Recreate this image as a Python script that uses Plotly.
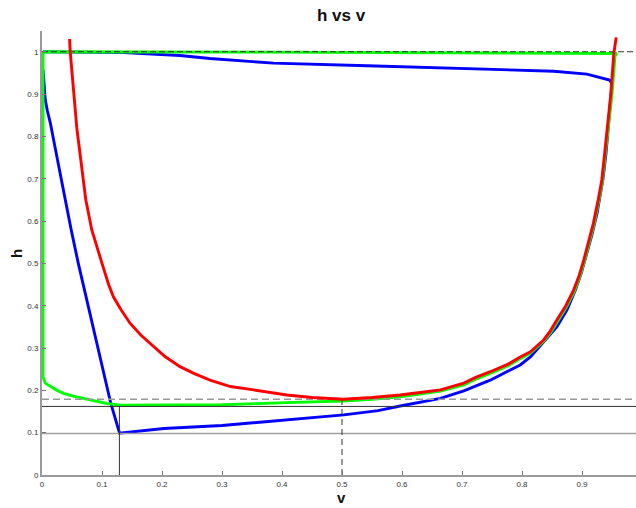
import plotly.graph_objects as go

# ---- curve data (v, h) ----
red_v = [0.046, 0.047, 0.053, 0.058, 0.064, 0.068, 0.073, 0.083, 0.092, 0.100,
         0.111, 0.119, 0.132, 0.147, 0.165, 0.186, 0.205, 0.230, 0.253, 0.280,
         0.314, 0.353, 0.380, 0.408, 0.450, 0.502, 0.550, 0.597, 0.630, 0.664,
         0.703, 0.722, 0.747, 0.777, 0.797, 0.814, 0.836, 0.847, 0.858, 0.873,
         0.886, 0.895, 0.903, 0.911, 0.919, 0.927, 0.933, 0.937, 0.942, 0.948,
         0.953, 0.957]
red_h = [1.030, 1.000, 0.902, 0.820, 0.752, 0.700, 0.650, 0.579, 0.535, 0.500,
         0.450, 0.421, 0.390, 0.358, 0.330, 0.303, 0.280, 0.256, 0.240, 0.224,
         0.209, 0.201, 0.195, 0.189, 0.183, 0.179, 0.183, 0.189, 0.195, 0.201,
         0.217, 0.230, 0.244, 0.262, 0.279, 0.291, 0.319, 0.340, 0.366, 0.400,
         0.437, 0.470, 0.508, 0.550, 0.595, 0.650, 0.697, 0.750, 0.823, 0.900,
         0.996, 1.034]

green_v = [0.0017, 0.0017, 0.0055, 0.014, 0.025, 0.036, 0.050, 0.069, 0.090, 0.108,
           0.130, 0.200, 0.300, 0.408, 0.502, 0.550, 0.597, 0.630, 0.664, 0.703,
           0.722, 0.747, 0.778, 0.797, 0.814, 0.836, 0.848, 0.859, 0.874, 0.887,
           0.896, 0.904, 0.912, 0.920, 0.928, 0.934, 0.938, 0.944, 0.950, 0.955,
           0.958, 0.370, 0.0017]
green_h = [1.000, 0.232, 0.217, 0.209, 0.200, 0.193, 0.187, 0.181, 0.174, 0.169,
           0.165, 0.165, 0.166, 0.171, 0.175, 0.179, 0.185, 0.191, 0.198, 0.213,
           0.226, 0.240, 0.259, 0.275, 0.288, 0.316, 0.337, 0.362, 0.397, 0.433,
           0.467, 0.505, 0.547, 0.592, 0.647, 0.693, 0.747, 0.823, 0.900, 0.990,
           0.996, 0.999, 1.000]

blue_v = [0.0017, 0.003, 0.0055, 0.009, 0.014, 0.0215, 0.030, 0.0388, 0.0487, 0.0605,
          0.0735, 0.0863, 0.0988, 0.1147, 0.1293, 0.203, 0.300, 0.408, 0.503, 0.560,
          0.597, 0.664, 0.703, 0.747, 0.797, 0.814, 0.839, 0.858, 0.875, 0.889,
          0.899, 0.908, 0.917, 0.925, 0.935, 0.940, 0.944, 0.948, 0.950, 0.946,
          0.936, 0.908, 0.853, 0.742, 0.697, 0.631, 0.542, 0.386, 0.280, 0.230,
          0.136, 0.0017]
blue_h = [0.958, 0.925, 0.886, 0.860, 0.831, 0.776, 0.713, 0.650, 0.579, 0.500,
          0.421, 0.343, 0.264, 0.169, 0.099, 0.110, 0.117, 0.130, 0.142, 0.152,
          0.163, 0.181, 0.199, 0.224, 0.260, 0.279, 0.319, 0.350, 0.390, 0.437,
          0.478, 0.524, 0.570, 0.618, 0.700, 0.760, 0.823, 0.880, 0.925, 0.933,
          0.937, 0.947, 0.954, 0.959, 0.961, 0.964, 0.967, 0.973, 0.984, 0.991,
          0.998, 1.000]

# ---- reference levels ----
h_top = 1.0
h_mid = 0.179
h_green_min = 0.162
h_blue_min = 0.098
v_blue_min = 0.129
v_mid = 0.5

x_ticks = [0, 0.1, 0.2, 0.3, 0.4, 0.5, 0.6, 0.7, 0.8, 0.9]
x_tick_text = ["0", "0.1", "0.2", "0.3", "0.4", "0.5", "0.6", "0.7", "0.8", "0.9"]
y_ticks = [0, 0.1, 0.2, 0.3, 0.4, 0.5, 0.6, 0.7, 0.8, 0.9, 1.0]
y_tick_text = ["0", "0.1", "0.2", "0.3", "0.4", "0.5", "0.6", "0.7", "0.8", "0.9", "1"]

X_MAX = 0.99
Y_MAX = 1.049
FONT = "Liberation Sans, Arial, sans-serif"

fig = go.Figure()


def curve(v, h, color, width=2.9):
    fig.add_trace(go.Scatter(x=v, y=h, mode="lines",
                             line=dict(color=color, width=width),
                             hoverinfo="skip", showlegend=False))


def ref(x, y, color, width, dash="solid"):
    fig.add_trace(go.Scatter(x=x, y=y, mode="lines",
                             line=dict(color=color, width=width, dash=dash),
                             hoverinfo="skip", showlegend=False))


curve(blue_v, blue_h, "#0000ff")
curve(green_v, green_h, "#00ff00")

# horizontal and vertical guide lines
ref([0, X_MAX], [h_blue_min, h_blue_min], "#a0a0a0", 1.6)
ref([0, X_MAX], [h_green_min, h_green_min], "#333333", 1)
ref([0, X_MAX], [h_mid, h_mid], "#999999", 1.6, "7px,4px")
ref([0, X_MAX], [h_top, h_top], "#333333", 1, "6px,3px")
ref([v_blue_min, v_blue_min], [0, h_green_min], "#333333", 1)
ref([v_mid, v_mid], [0, h_mid], "#333333", 1, "6px,4px")

curve(red_v, red_h, "#ff0000")

axis_common = dict(showline=True, linecolor="#9a9a9a", linewidth=2, showgrid=False,
                   zeroline=False, ticks="inside", ticklen=4, tickcolor="#777777",
                   tickwidth=1, tickfont=dict(family=FONT, size=8, color="#333333"))

fig.update_layout(
    width=636, height=508,
    margin=dict(l=42, r=0, t=31, b=33),
    plot_bgcolor="white", paper_bgcolor="white",
    xaxis=dict(range=[0, X_MAX], tickvals=x_ticks, ticktext=x_tick_text, **axis_common),
    yaxis=dict(range=[0, Y_MAX], tickvals=y_ticks, ticktext=y_tick_text, **axis_common),
    annotations=[
        dict(text="<b>h vs v</b>", xref="paper", yref="paper", x=0.5045, y=1.036,
             xanchor="center", yanchor="middle", showarrow=False,
             font=dict(family=FONT, size=17, color="#111111")),
        dict(text="<b>v</b>", xref="paper", yref="paper", x=0.5045, y=-0.05,
             xanchor="center", yanchor="middle", showarrow=False,
             font=dict(family=FONT, size=15, color="#111111")),
        dict(text="<b>h</b>", xref="paper", yref="paper", x=-0.042, y=0.498,
             xanchor="center", yanchor="middle", showarrow=False, textangle=-90,
             font=dict(family=FONT, size=15, color="#111111")),
    ],
)

fig.write_html("out.html")
